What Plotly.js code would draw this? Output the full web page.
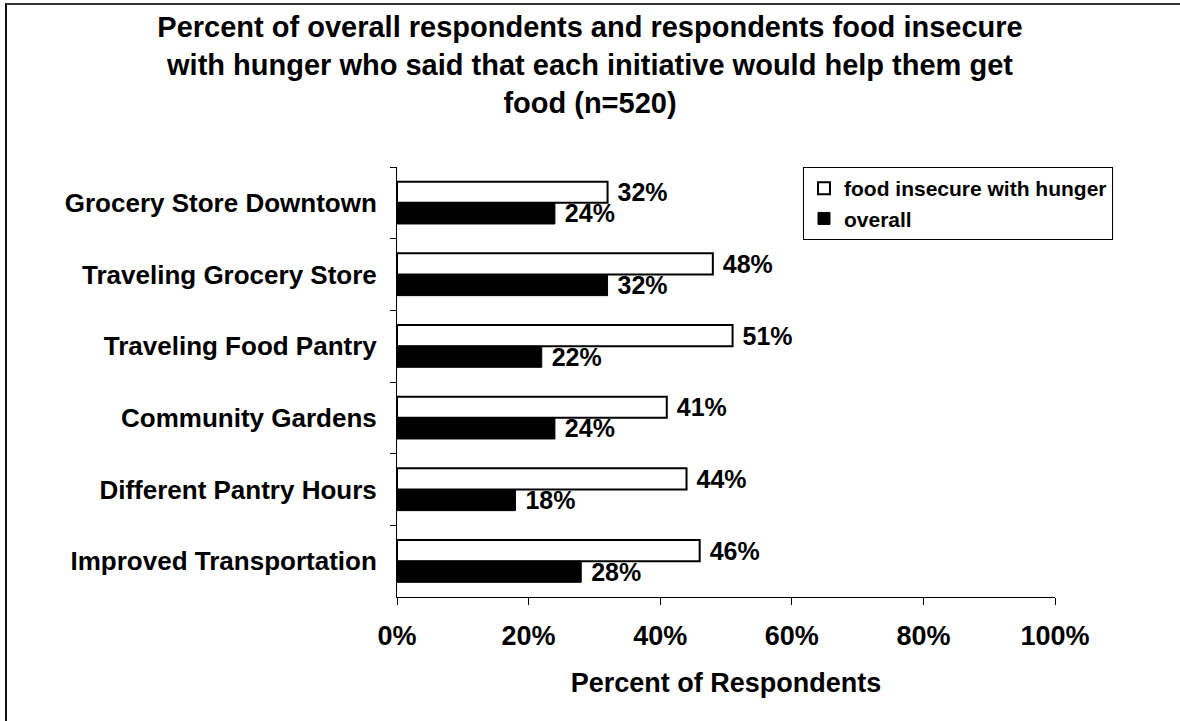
<!DOCTYPE html>
<html>
<head>
<meta charset="utf-8">
<script src="https://cdn.plot.ly/plotly-3.0.1.min.js"></script>
<style>
  html, body { margin: 0; padding: 0; background: #fff; }
  #wrap { position: relative; width: 1180px; height: 721px; overflow: hidden; }
  #chart { position: absolute; left: 0; top: 0; width: 1180px; height: 721px; }
  #frame { position: absolute; left: 5px; top: 3px; width: 1200px; height: 740px;
           border-top: 2px solid #333; border-left: 2px solid #111; pointer-events: none; }
</style>
</head>
<body>
<div id="wrap">
  <div id="chart"></div>
  <div id="frame"></div>
</div>
<script>
// Initiatives, top to bottom
const initiatives = [
  'Grocery Store Downtown',
  'Traveling Grocery Store',
  'Traveling Food Pantry',
  'Community Gardens',
  'Different Pantry Hours',
  'Improved Transportation'
];
// Percent who said the initiative would help them get food
const hungerPct  = [32, 48, 51, 41, 44, 46];
const overallPct = [24, 32, 22, 24, 18, 28];
const seriesNames = ['food insecure with hunger', 'overall'];
const xTickVals = [0, 20, 40, 60, 80, 100];
const xTickText = ['0%', '20%', '40%', '60%', '80%', '100%'];

const FONT = '"Liberation Sans", Arial, Helvetica, sans-serif';
const bold = (size) => ({ family: FONT, size: size, color: '#000', weight: 700 });
// a non-breaking space keeps the value labels a little off the bar ends
const label = (v) => '\u00a0' + v + '%';

const traces = [
  {
    type: 'bar', orientation: 'h', name: seriesNames[0],
    y: initiatives, x: hungerPct,
    marker: { color: '#fff', line: { color: '#000', width: 2 } },
    text: hungerPct.map(label), textposition: 'outside', constraintext: 'none',
    textfont: bold(25), cliponaxis: false, hoverinfo: 'skip'
  },
  {
    type: 'bar', orientation: 'h', name: seriesNames[1],
    y: initiatives, x: overallPct,
    marker: { color: '#000', line: { color: '#000', width: 1 } },
    text: overallPct.map(label), textposition: 'outside', constraintext: 'none',
    textfont: bold(25), cliponaxis: false, hoverinfo: 'skip'
  }
];

const layout = {
  width: 1180, height: 721,
  paper_bgcolor: '#fff', plot_bgcolor: '#fff',
  margin: { l: 397, r: 125, t: 167, b: 124, autoexpand: false },
  font: bold(25),
  showlegend: true,
  barmode: 'group', bargap: 0.41, bargroupgap: 0,
  title: {
    text: 'Percent of overall respondents and respondents food insecure<br>with hunger who said that each initiative would help them get<br>food (n=520)',
    font: bold(29),
    x: 0.5, xref: 'container', xanchor: 'center',
    y: 0.948, yref: 'container', yanchor: 'top'
  },
  xaxis: {
    range: [0, 100], tickvals: xTickVals, ticktext: xTickText,
    showgrid: false, zeroline: false,
    showline: true, linecolor: '#000', linewidth: 1,
    ticks: 'outside', ticklen: 7, tickcolor: '#000',
    tickfont: bold(27), ticklabelstandoff: 8,
    title: { text: 'Percent of Respondents', font: bold(27), standoff: 22 },
    automargin: false, fixedrange: true
  },
  yaxis: {
    type: 'category', autorange: 'reversed',
    showgrid: false, zeroline: false,
    showline: true, linecolor: '#000', linewidth: 1,
    ticks: 'outside', ticklen: 6, tickcolor: '#000', tickson: 'boundaries',
    tickfont: bold(26), ticklabelstandoff: 14,
    automargin: false, fixedrange: true
  },
  legend: {
    x: 0.617, xanchor: 'left', y: 1, yanchor: 'top',
    bgcolor: '#fff', bordercolor: '#000', borderwidth: 1,
    font: bold(21), traceorder: 'normal', tracegroupgap: 0,
    itemclick: false, itemdoubleclick: false
  }
};

Plotly.newPlot('chart', traces, layout, { displayModeBar: false, staticPlot: true });
</script>
</body>
</html>
